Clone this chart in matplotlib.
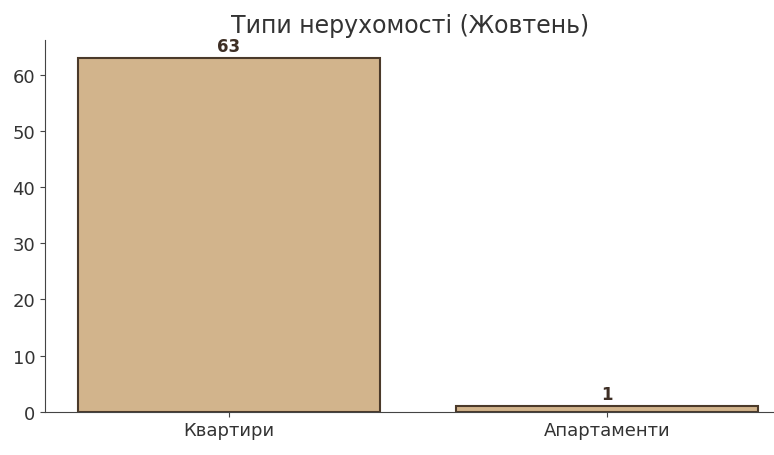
import matplotlib
matplotlib.use("Agg")
import matplotlib.pyplot as plt

categories = ["Квартири", "Апартаменти"]
values = [63, 1]
yticks = [0, 10, 20, 30, 40, 50, 60]

plt.rcParams['font.family'] = ['DejaVu Sans']

fig = plt.figure(figsize=(7.74, 4.56), dpi=100)
ax = fig.add_axes([45/774, 1 - 412.7/456, 1 - 45/774 + 0.001, (412.7 - 41)/456])

x = list(range(len(categories)))
bars = ax.bar(x, values, width=0.8, color="#D2B48C", edgecolor="#4B3A2A", linewidth=1.5)
for xi, v in zip(x, values):
    ax.text(xi, v + 0.5, str(v), ha="center", va="bottom", fontsize=12,
            fontweight="bold", color="#3E2F25")

ax.set_xticks(x)
ax.set_xticklabels(categories, fontsize=13, color="#333333")
ax.set_yticks(yticks)
ax.set_yticklabels([str(t) for t in yticks], fontsize=13, color="#333333")
ax.set_xlim(-0.487, 1.444)
ax.set_ylim(0, 66.15)
ax.spines["top"].set_visible(False)
ax.spines["right"].set_visible(False)
for s in ("left", "bottom"):
    ax.spines[s].set_color("#444444")
ax.tick_params(colors="#444444", labelcolor="#333333")
ax.set_title("Типи нерухомості (Жовтень)", fontsize=17, color="#333333", pad=6)

fig.savefig("out.png", dpi=100)
